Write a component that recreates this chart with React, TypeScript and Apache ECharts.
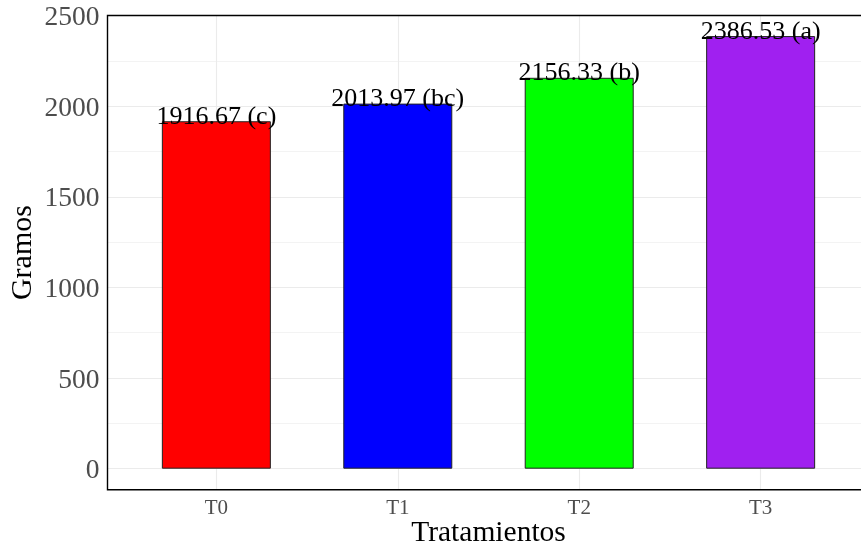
import React, { useEffect, useRef } from "react";
import * as echarts from "echarts";

const categories = ["T0", "T1", "T2", "T3"];
const values = [1916.67, 2013.97, 2156.33, 2386.53];
const letters = ["c", "bc", "b", "a"];
const colors = ["#ff0000", "#0000ff", "#00ff00", "#a020f0"];
const yMajorTicks = [0, 500, 1000, 1500, 2000, 2500];
const yMinorTicks = [250, 750, 1250, 1750, 2250];

const SERIF = "'Liberation Serif', 'Times New Roman', serif";

export default function App() {
  const ref = useRef<HTMLDivElement>(null);
  useEffect(() => {
    if (!ref.current) return;
    const chart = echarts.init(ref.current, null, { renderer: "svg" });
    const gridData: any[] = [];
    yMajorTicks.forEach((v) =>
      gridData.push({
        yAxis: v,
        lineStyle: { color: "#ebebeb", width: 1.1, type: "solid" },
        label: {
          show: true,
          position: "start",
          distance: 8,
          padding: [4, 0, 0, 0],
          formatter: String(v),
          color: "#4d4d4d",
          fontSize: 27.5,
          fontFamily: SERIF,
        },
      })
    );
    yMinorTicks.forEach((v) =>
      gridData.push({
        yAxis: v,
        lineStyle: { color: "#f0f0f0", width: 0.8, type: "solid" },
        label: { show: false },
      })
    );
    categories.forEach((c, i) =>
      gridData.push({
        xAxis: i,
        lineStyle: { color: "#ebebeb", width: 1.1, type: "solid" },
        label: {
          show: true,
          position: "start",
          distance: 7,
          formatter: c,
          color: "#4d4d4d",
          fontSize: 21,
          fontFamily: SERIF,
        },
      })
    );
    chart.setOption({
      animation: false,
      grid: {
        left: 107.5,
        width: 762,
        top: 15.5,
        bottom: 56.3,
        containLabel: false,
        outerBoundsMode: "none",
        show: true,
        z: 1.5,
        borderColor: "#000",
        borderWidth: 1.4,
        backgroundColor: "transparent",
      },
      xAxis: {
        type: "value",
        min: -0.6,
        max: 3.6,
        axisLine: { show: false },
        axisTick: { show: false },
        axisLabel: { show: false },
        splitLine: { show: false },
        name: "Tratamientos",
        nameLocation: "middle",
        nameGap: 27,
        nameTextStyle: {
          fontSize: 29.5,
          lineHeight: 28,
          color: "#000",
          fontFamily: SERIF,
        },
      },
      yAxis: {
        type: "value",
        min: -116,
        max: 2500,
        axisLine: { show: false },
        axisTick: { show: false },
        axisLabel: { show: false },
        splitLine: { show: false },
        name: "Gramos",
        nameLocation: "middle",
        nameGap: 72,
        nameTextStyle: { fontSize: 30, color: "#000", fontFamily: SERIF },
      },
      series: [
        {
          type: "bar",
          barWidth: 109,
          clip: false,
          z: 2,
          data: values.map((v, i) => ({
            value: [i, v],
            itemStyle: { color: colors[i], borderColor: "#222", borderWidth: 1 },
          })),
          label: {
            show: true,
            position: "top",
            distance: -7,
            color: "#000",
            fontSize: 26,
            fontFamily: SERIF,
            formatter: (p: any) =>
              `${values[p.dataIndex].toFixed(2)} (${letters[p.dataIndex]})`,
          },
          markLine: {
            z: 1,
            silent: true,
            symbol: "none",
            animation: false,
            data: gridData,
          },
        },
      ],
    });
    return () => chart.dispose();
  }, []);
  return (
    <div
      ref={ref}
      style={{ position: "fixed", left: 0, top: 0, width: 861, height: 546 }}
    />
  );
}
